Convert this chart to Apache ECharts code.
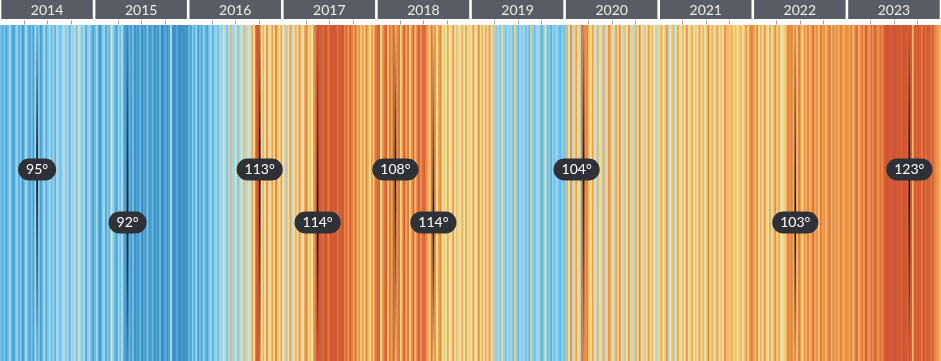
<!DOCTYPE html>
<html>
<head>
<meta charset="utf-8">
<script src="https://cdn.jsdelivr.net/npm/echarts@6/dist/echarts.min.js"></script>
<style>html,body{margin:0;padding:0;background:#fff;}#c{width:941px;height:361px;}</style>
</head>
<body>
<div id="c"></div>
<script>
// Year header labels
const years = [2014, 2015, 2016, 2017, 2018, 2019, 2020, 2021, 2022, 2023];
// Weekly temperature anomaly (°F, estimated from stripe colours), 52 weeks per year
const w2014 = [-1.2,-1.8,-1.0,-2.2,-1.4,-0.6,-1.6,-2.4,-1.2,-0.8,-1.8,-1.0,-2.6,-1.4,-0.5,-1.6,-2.0,-1.2,-2.2,-0.7,-1.5,-1.0,-2.3,-1.4,-0.6,-1.8,-1.1,-0.5,-1.4,-0.8,-1.7,-0.4,-0.9,-1.3,-0.6,-0.3,-1.0,-0.6,-1.6,-0.5,-0.8,-0.4,-1.2,0.4,-0.7,-1.1,-0.5,-1.9,-0.9,-0.6,-1.5,-2.2];
const w2015 = [-1.4,-0.6,-1.8,-2.6,-1.2,-0.5,-2.0,-1.0,-1.6,0.3,-0.8,-1.5,-2.2,-0.7,-1.3,-0.4,-1.9,-2.4,-2.7,-1.6,-2.5,-1.3,-2.8,-2.0,-2.6,-1.5,-2.9,-2.0,-2.4,-1.1,-2.7,-2.2,-1.7,-2.8,-2.1,-2.6,-1.5,-3.0,-2.4,-1.8,-2.7,-2.2,-0.3,-2.5,-2.9,-2.0,-2.6,-3.0,-2.5,-2.8,-2.4,-2.7];
const w2016 = [-1.5,-2.2,-1.0,-1.8,-0.6,-2.4,-1.3,-1.9,-0.8,-1.6,-2.1,-1.2,-0.5,-1.7,-1.0,-0.7,-1.4,-0.4,-0.9,0.3,-0.6,-1.1,-0.3,1.4,-0.7,-0.5,0.2,-1.0,-0.6,0.5,-0.8,1.2,-0.4,0.4,-0.2,1.6,0.8,2.8,3.0,2.6,0.6,1.5,0.4,2.0,0.9,0.3,1.8,0.7,2.3,1.2,0.5,1.7];
const w2017 = [0.6,-0.6,1.3,0.3,1.8,-0.4,0.8,1.5,0.4,2.0,1.0,0.3,1.6,2.2,0.7,1.3,0.5,1.9,2.5,3.0,2.9,3.0,2.6,3.0,2.9,2.4,3.0,3.0,2.9,3.0,2.5,3.0,2.9,3.0,2.2,2.7,1.9,2.9,2.3,1.6,2.6,1.4,2.0,1.1,1.7,0.9,2.3,1.4,0.7,1.8,1.2,2.4];
const w2018 = [2.7,2.9,0.6,1.8,2.5,2.9,1.2,2.4,1.7,2.8,1.4,2.1,2.6,0.9,2.0,2.9,1.6,2.5,0.8,1.9,2.7,1.3,2.3,2.9,1.9,2.6,2.9,2.2,1.6,1.0,2.5,1.3,2.0,0.7,1.7,2.2,0.6,1.1,0.3,1.6,0.5,0.9,1.9,0.4,1.2,0.3,0.8,1.5,0.5,1.7,0.4,1.0];
const w2019 = [0.6,1.8,0.9,0.4,2.2,0.7,1.4,0.3,1.6,0.5,1.9,0.8,-0.5,1.3,-0.9,-0.4,-1.1,0.9,-0.8,-1.2,-0.6,-0.9,-0.7,-1.3,1.0,-0.9,-1.4,-0.6,-1.0,-0.5,-1.2,-0.8,-1.5,1.2,-0.9,-1.3,-0.7,-0.4,-1.1,-1.6,-0.9,0.6,-1.4,-1.0,-1.7,-0.8,-1.3,-0.6,-1.1,-1.6,-0.9,-1.2];
const w2020 = [-1.0,1.5,0.5,2.1,-0.3,1.0,1.7,0.4,-0.2,2.4,2.2,1.9,2.3,1.2,0.6,1.8,0.4,-0.4,1.4,0.7,0.0,1.6,-0.4,0.9,2.0,1.4,0.5,-0.2,1.7,0.8,2.1,0.4,-0.5,1.3,0.6,1.9,0.0,1.1,-0.3,1.5,0.7,2.2,0.5,-0.2,1.2,0.8,1.8,0.3,1.4,0.6,-0.4,1.0];
const w2021 = [0.8,1.6,0.4,1.1,1.9,-0.4,0.6,1.3,-0.7,0.5,1.7,0.9,0.3,1.4,0.7,2.1,0.4,1.0,1.6,0.5,1.2,0.3,1.8,0.8,1.4,0.4,1.1,2.2,0.6,1.5,0.3,1.0,1.7,0.5,1.3,0.4,2.0,1.4,1.3,1.2,1.5,0.7,1.3,0.6,1.1,1.4,0.5,1.2,1.9,0.9,2.1,2.3];
const w2022 = [1.8,1.2,2.2,0.6,1.5,0.4,2.0,1.1,0.5,1.7,0.3,1.3,2.1,0.9,1.6,0.7,0.4,1.0,1.4,2.3,1.9,2.2,1.6,2.0,1.2,2.4,1.7,0.8,2.0,1.5,2.3,1.3,1.9,2.6,1.6,2.1,1.1,2.4,1.8,2.0,1.4,1.9,2.5,1.3,2.2,1.7,2.0,1.5,2.3,1.9,1.6,2.1];
const w2023 = [2.0,1.6,2.4,1.3,2.2,2.7,1.5,2.0,2.5,1.8,2.9,2.2,1.7,2.6,2.1,2.8,2.3,1.9,2.6,2.2,2.7,3.0,3.0,2.9,3.0,3.0,3.0,2.9,3.0,3.0,2.9,3.0,3.0,2.8,3.0,2.9,1.4,3.0,2.7,3.0,2.9,2.4,3.0,2.6,2.9,3.0,2.5,2.8,2.3,2.0,1.8,1.5];
// Annotated peak highs: week index (from first week of 2014) and temperature
const annoWeeks = [20, 70, 143, 175, 218, 239, 322, 439, 502];
const annoTemps = [95, 92, 113, 114, 108, 114, 104, 103, 123];

const weekly = [].concat(w2014, w2015, w2016, w2017, w2018, w2019, w2020, w2021, w2022, w2023);
const nWeeks = weekly.length;
const perYear = 52;
const quarterTicks = [];
for (let y = 0; y < years.length; y++) {
  for (let q = 1; q < 4; q++) quarterTicks.push(y * perYear + q * 13);
}
const labelNudge = {6: -7};

const chart = echarts.init(document.getElementById('c'));
chart.setOption({
  animation: false,
  grid: [
    {left: -4.5, right: -4.5, top: 25, bottom: 0},
    {left: -4.5, right: -4.5, top: 0, height: 19}
  ],
  xAxis: [
    {gridIndex: 0, type: 'value', min: 0, max: nWeeks, show: false},
    {gridIndex: 1, type: 'value', min: 0, max: years.length, show: false}
  ],
  yAxis: [
    {gridIndex: 0, type: 'value', min: 0, max: 1, show: false},
    {gridIndex: 1, type: 'value', min: 0, max: 1, show: false}
  ],
  visualMap: {
    show: false, type: 'continuous', seriesIndex: 0, dimension: 1, min: -3, max: 3,
    inRange: {color: ['#3a88bc','#4699c9','#57aedd','#72c4ec','#a3d7eb','#c0dcd6','#f6e592','#f5c26c','#ef9b4c','#e27a3f','#d15632']}
  },
  series: [
    {
      type: 'custom', xAxisIndex: 0, yAxisIndex: 0, clip: true,
      data: weekly.map((v, i) => [i, v]),
      renderItem: function (params, api) {
        const i = api.value(0);
        const p0 = api.coord([i, 1]);
        const p1 = api.coord([i + 1, 0]);
        return {type: 'rect', shape: {x: p0[0], y: p0[1], width: p1[0] - p0[0] + 0.5, height: p1[1] - p0[1]},
          style: {fill: api.visual('color')}};
      }
    },
    {
      type: 'custom', xAxisIndex: 1, yAxisIndex: 1,
      data: years.map((y, i) => [i, y]),
      renderItem: function (params, api) {
        const i = api.value(0);
        const p0 = api.coord([i, 1]);
        const p1 = api.coord([i + 1, 0]);
        const g = 1.3;
        return {type: 'group', children: [
          {type: 'rect', shape: {x: p0[0] + g, y: p0[1], width: p1[0] - p0[0] - 2 * g, height: p1[1] - p0[1]},
           style: {fill: '#585c64'}},
          {type: 'text', style: {text: String(api.value(1)), x: (p0[0] + p1[0]) / 2, y: (p0[1] + p1[1]) / 2 + 0.5,
            align: 'center', verticalAlign: 'middle', fill: '#ececec', font: '14px Lato'}}
        ]};
      }
    },
    {
      type: 'custom', xAxisIndex: 0, yAxisIndex: 0, clip: false,
      data: quarterTicks.map(t => [t, 1]),
      renderItem: function (params, api) {
        const p = api.coord([api.value(0), 1]);
        return {type: 'line', shape: {x1: Math.round(p[0]) + 0.5, y1: p[1] - 4.5, x2: Math.round(p[0]) + 0.5, y2: p[1] - 0.5},
          style: {stroke: '#a0a0a0', lineWidth: 1}};
      }
    },
    {
      type: 'custom', xAxisIndex: 0, yAxisIndex: 0, z: 5,
      data: annoWeeks.map((w, i) => [w, annoTemps[i]]),
      renderItem: function (params, api) {
        const idx = params.dataIndex;
        const w = api.value(0);
        const top = api.coord([w + 0.5, 1]);
        const bot = api.coord([w + 0.5, 0]);
        const h = bot[1] - top[1];
        const frac = idx % 2 === 0 ? 0.43 : 0.588;
        const ly = top[1] + h * frac;
        const lx = top[0] + (labelNudge[idx] || 0);
        return {type: 'group', children: [
          {type: 'rect', shape: {x: top[0] - 0.8, y: top[1], width: 1.6, height: h},
           style: {fill: new echarts.graphic.LinearGradient(0, 0, 0, 1, [
             {offset: 0, color: 'rgba(0,0,0,0)'},
             {offset: frac, color: 'rgba(0,0,0,0.95)'},
             {offset: 1, color: 'rgba(0,0,0,0)'}])}},
          {type: 'text', style: {text: api.value(1) + '°', x: lx, y: ly,
            align: 'center', verticalAlign: 'middle', fill: '#ffffff', font: '14px Lato', lineHeight: 14,
            backgroundColor: '#2e3138', borderRadius: 11, padding: [4, 8, 4, 8]}}
        ]};
      }
    }
  ]
});
</script>
</body>
</html>
